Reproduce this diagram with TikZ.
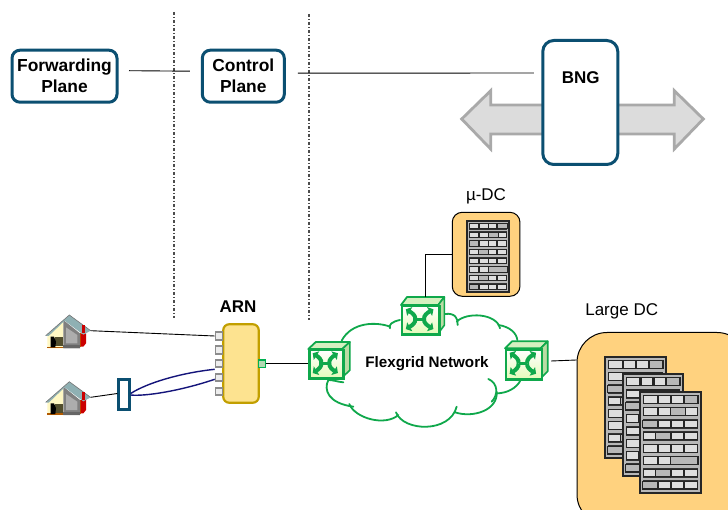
\documentclass[tikz,border=0pt]{standalone}
\usepackage{fontspec}
\setmainfont{Liberation Sans}
\usetikzlibrary{arrows.meta,calc}
\definecolor{planeblue}{HTML}{0B4F71}
\definecolor{arrowfill}{HTML}{DCDCDC}
\definecolor{arrowedge}{HTML}{A9A9A9}
\definecolor{arnfill}{HTML}{FDE390}
\definecolor{arnedge}{HTML}{C29F00}
\definecolor{portgreen}{HTML}{00B050}
\definecolor{swgreen}{HTML}{0FA84B}
\definecolor{swtop}{HTML}{D5F0C0}
\definecolor{swside}{HTML}{BBDCA5}
\definecolor{swlow}{HTML}{E4FBB8}
\definecolor{dcfill}{HTML}{FFD27F}
\definecolor{navyline}{HTML}{14147A}
\definecolor{cellL}{HTML}{DEDEDE}
\definecolor{cellG}{HTML}{B8B8B8}
\definecolor{roofc}{HTML}{8FB0B3}
\definecolor{wallyellow}{HTML}{FFF8C4}
\tikzset{
  planebox/.style={draw=planeblue,line width=3pt,fill=white,rounded corners=8pt,inner sep=0pt,align=center,font=\fontsize{17.4}{21}\selectfont\bfseries},
  boldlabel/.style={font=\fontsize{17}{20}\selectfont\bfseries,inner sep=0pt},
  plainlabel/.style={font=\fontsize{17}{20}\selectfont,inner sep=0pt},
  divider/.style={draw=black!70,line width=1.2pt,dash pattern=on 3pt off 2pt on 1pt off 2pt},
  link/.style={draw=black,line width=0.9pt},
  portbox/.style={draw=black!45,fill=black!7,line width=1.6pt,minimum width=7pt,minimum height=7.5pt,inner sep=0pt},
  navylink/.style={draw=navyline,line width=1.4pt},
  cloudline/.style={draw=swgreen,line width=1.8pt,line cap=round},
  swx/.style={draw=swgreen,line width=4pt,-{Triangle[length=4.5pt,width=10pt]}},
  dcbox/.style={draw=black,line width=1pt,fill=dcfill,inner sep=0pt},
}
\newcommand{\rackrow}[2]{%
  \pgfmathsetmacro{\ry}{2.5+12.15*#1}
  \fill[black!80] (4.4,\ry) rectangle (95.6,\ry+9.5);
  \foreach \a/\b/\c in {#2}{\draw[black!85,fill=\c] (\a,\ry+1) rectangle (\b,\ry+8.5);}
}
\newcommand{\rackdraw}[5]{%
  \begin{scope}[shift={(#1,#2)},xscale=#3/100,yscale=#4/100,line width=#5]
    \draw[black!85,fill=black!28,line width=1.2pt] (0,0) rectangle (100,100);
    \rackrow{0}{6/28/cellL,30/50/cellL,52/71/cellL,73/95/cellG}
    \rackrow{1}{6/28/cellL,30/50/cellL,50/74/cellG,75/94/cellL}
    \rackrow{2}{4.4/28/cellG,30/50/cellL,52/71/cellL,73/94/cellL}
    \rackrow{3}{6/26/cellL,26/50/cellG,52/71/cellL,73/94/cellL}
    \rackrow{4}{6/28/cellL,30/50/cellL,52/71/cellL,73/94/cellL}
    \rackrow{5}{6/28/cellL,30/50/cellL,50/95/cellG}
    \rackrow{6}{6/26/cellL,26/50/cellG,52/71/cellL,73/94/cellL}
    \rackrow{7}{4.4/28/cellG,30/50/cellL,52/71/cellL,73/94/cellL}
  \end{scope}
}
\newcommand{\housedraw}[2]{%
  \begin{scope}[shift={(#1,#2)},scale=1/3]
    \fill[wallyellow] (52,175) -- (52,137) -- (100,95) -- (100,175) -- cycle;
    \fill[black!50] (100,90) -- (150,130) -- (150,175) -- (100,175) -- cycle;
    \fill[black!32] (108,112) -- (142,135) -- (142,160) -- (108,160) -- cycle;
    \fill[black!60] (100,165) rectangle (150,175);
    \fill[orange!70!black] (52,170) rectangle (100,175);
    \fill[olive!45!black] (76,142) rectangle (100,168);
    \fill[black] (62,140) -- (72,140) -- (78,155) -- (76,172) -- (62,172) -- cycle;
    \fill[orange!75!black] (150,130) rectangle (154,172);
    \fill[red!80!black] (152,130) -- (168,130) -- (168,160) -- (160,170) -- (152,170) -- cycle;
    \fill[roofc] (47,137) -- (118,75) -- (182,122) -- (160,134) -- (104,92) -- (56,138) -- cycle;
    \draw[black!55,line width=0.6pt] (47,137) -- (118,75) -- (182,122);
    \fill[red!80!black] (155,105) rectangle (165,130);
  \end{scope}
}
\newcommand{\switchdraw}[7]{%
  \fill[swtop,draw=swgreen,line width=1.8pt,line join=round]
    (#2,#3) -- ++(#6,#7) -- ++(#4,0) -- ++(-#6,-#7) -- cycle;
  \fill[swside,draw=swgreen,line width=1.6pt,line join=round]
    (#2+#4,#3) -- ++(#6,#7) -- ++(0,#5) -- ++(-#6,-#7) -- cycle;
  \node[draw=swgreen,line width=2.4pt,inner sep=0pt,minimum width=#4 pt,minimum height=#5 pt,
        top color=white,bottom color=swlow,anchor=north west] (#1) at (#2,#3) {};
  \begin{scope}[shift={(#2,#3)},xscale=#4,yscale=#5]
    \draw[swx] (.38,.5) .. controls (.4,.38) and (.3,.28) .. (.13,.15);
    \draw[swx] (.62,.5) .. controls (.6,.38) and (.7,.28) .. (.87,.15);
    \draw[swx] (.38,.5) .. controls (.4,.62) and (.3,.72) .. (.13,.85);
    \draw[swx] (.62,.5) .. controls (.6,.62) and (.7,.72) .. (.87,.85);
    \draw[draw=swgreen,line width=3pt] (.38,.5) -- (.62,.5);
  \end{scope}
}
\begin{document}
\begin{tikzpicture}[x=1pt,y=-1pt]
\clip (0,0) rectangle (728,510);
\fill[white] (0,0) rectangle (728,510);

% dividers
\coordinate (d1a) at (174,12); \coordinate (d1b) at (174,318);
\coordinate (d2a) at (309,14); \coordinate (d2b) at (309,320);
\draw[divider] (d1a) -- (d1b);
\draw[divider] (d2a) -- (d2b);

% big arrow behind BNG
\draw[draw=arrowedge,fill=arrowfill,line width=2.8pt,line join=miter]
  (461.7,119) -- (490.7,90.7) -- (490.7,105) -- (674.3,105) -- (674.3,90.7) -- (703.3,119)
  -- (674.3,149) -- (674.3,134) -- (490.7,134) -- (490.7,149) -- cycle;

% top boxes
\node[planebox,minimum width=105pt,minimum height=52pt] (fp) at (64.5,76.2) {Forwarding\\Plane};
\node[planebox,minimum width=82pt,minimum height=52pt] (cp) at (243.3,76.2) {Control\\Plane};
\node[planebox,rounded corners=11pt,minimum width=75pt,minimum height=124pt] (bng) at (580.3,102.5) {};
\node[boldlabel] (bngtext) at (580.7,77.3) {BNG};
\draw[link] ([xshift=10.5pt,yshift=5.5pt]fp.east) -- ([xshift=-11pt,yshift=5pt]cp.west);
\draw[link] ([xshift=12pt,yshift=3pt]cp.east) -- ([xshift=-7.5pt,yshift=29.5pt]bng.west);

% ARN
\node[boldlabel] (arnlabel) at (238,306.7) {ARN};
\node[draw=arnedge,fill=arnfill,line width=2.2pt,rounded corners=6pt,minimum width=35.5pt,minimum height=78.5pt,inner sep=0pt] (arn) at (241,363.5) {};
\node[portbox] (p1) at (219,336) {};
\node[portbox] (p2) at (219,350) {};
\node[portbox] (p3) at (219,363.5) {};
\node[portbox] (p4) at (219,377.5) {};
\node[portbox] (p5) at (219,391.5) {};
\node[draw=portgreen,fill=green!50!black!30!white,line width=1.8pt,minimum width=7pt,minimum height=7.5pt,inner sep=0pt] (pg) at (262,363.7) {};

% homes
\housedraw{30}{290}
\housedraw{30}{356.7}
\coordinate (home1) at (90.7,330.7);
\coordinate (home2) at (90.7,397.3);

% splitter
\node[draw=planeblue,fill=white,line width=2.8pt,minimum width=10.5pt,minimum height=30.5pt,inner sep=0pt] (split) at (124,394.5) {};
\draw[link] (home1) -- (p1.west);
\draw[link] (home2) -- ([yshift=1pt]split.west);
\draw[navylink] ([yshift=1pt]split.east) .. controls (147,383) and (180,373) .. ([yshift=-5.8pt]p3.west);
\draw[navylink] ([yshift=-0.5pt]split.east) .. controls (145,396.5) and (180,391) .. ([yshift=-1.8pt]p4.west);

% cloud
\begin{scope}[shift={(290,180)},scale=1/3]
  \fill[white] (160,600) -- (155,480) -- (300,440) -- (330,420) -- (500,420) -- (680,480) -- (690,600) -- (600,670) -- (400,740) -- (190,680) -- (110,640) -- cycle;
  \draw[cloudline] (160,607) .. controls (140,605) and (130,600) .. (115,600) .. controls (100,630) and (115,670) .. (190,680);
  \draw[cloudline] (178,672) .. controls (195,715) and (285,740) .. (325,705);
  \draw[cloudline] (318,697) .. controls (340,755) and (480,760) .. (500,680);
  \draw[cloudline] (495,697) .. controls (550,715) and (625,690) .. (620,635);
  \draw[cloudline] (595,597) .. controls (625,610) and (625,645) .. (605,665);
  \draw[cloudline] (620,640) .. controls (650,640) and (680,625) .. (692,600);
  \draw[cloudline] (465,402) .. controls (495,398) and (505,415) .. (503,435);
  \draw[cloudline] (500,425) .. controls (530,395) and (620,400) .. (630,445);
  \draw[cloudline] (625,435) .. controls (660,440) and (680,460) .. (682,480);
  \draw[cloudline] (330,420) .. controls (305,425) and (295,435) .. (300,445);
  \draw[cloudline] (300,440) .. controls (260,425) and (185,425) .. (155,482);
\end{scope}
\node[font=\fontsize{15.2}{18}\selectfont\bfseries,inner sep=0pt] (flex) at (427,363.3) {Flexgrid Network};

% switches
\switchdraw{sw1}{308.3}{349}{34}{28.3}{7.5}{-7}
\switchdraw{sw2}{401}{305}{37.3}{28.3}{6}{-8}
\switchdraw{sw3}{505}{348.3}{35.7}{30}{7}{-7}
\coordinate (sw2top) at (425.3,297);

% micro DC
\node[plainlabel] (mulabel) at (486,196.7) {µ-DC};
\node[dcbox,rounded corners=10pt,minimum width=67.7pt,minimum height=84pt] (mudc) at (486.1,254.3) {};
\rackdraw{467}{221}{42}{71}{0.7pt}

% large DC
\node[plainlabel] (largelabel) at (621.7,311.7) {Large DC};
\node[dcbox,rounded corners=30pt,minimum width=170pt,minimum height=192pt,anchor=north west] (ldc) at (576.5,332) {};
\rackdraw{605}{357}{61}{101}{1.1pt}
\rackdraw{623}{374}{60}{102}{1.1pt}
\rackdraw{640}{392}{61}{101}{1.1pt}

% links
\draw[link] (pg.east) -- (sw1.west |- pg.east);
\draw[link] ([yshift=-0.3pt]mudc.west) -| (sw2top);
\draw[link] ([xshift=8pt,yshift=3.5pt]sw3.east) -- (ldc.west |- 0,360);
\end{tikzpicture}
\end{document}
